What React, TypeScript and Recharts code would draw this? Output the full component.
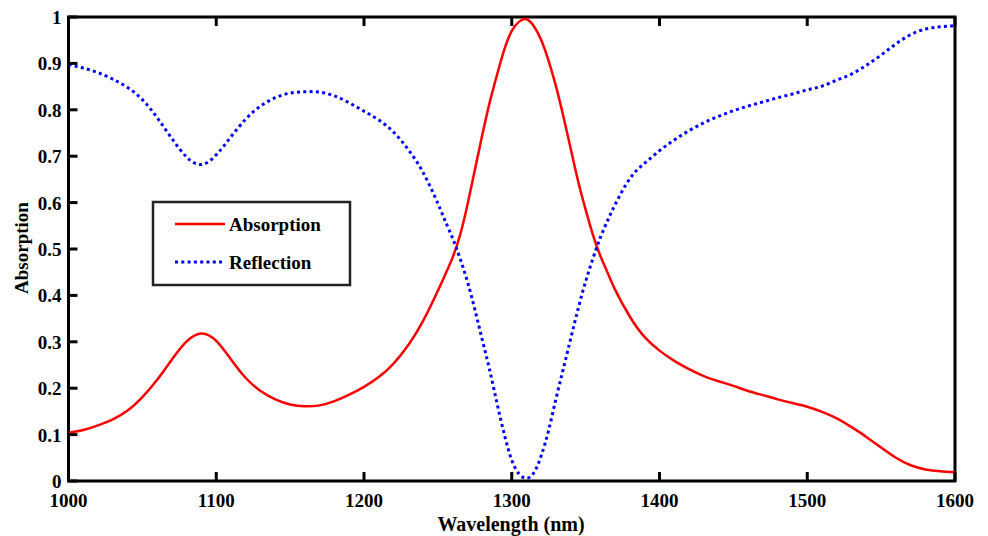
import React from 'react';
import { LineChart, Line, XAxis, YAxis, ReferenceArea } from 'recharts';

const wavelength = [
  1000, 1010, 1020, 1030, 1040, 1050, 1060, 1070, 1080, 1090,
  1100, 1110, 1120, 1130, 1140, 1150, 1160, 1170, 1180, 1190,
  1200, 1210, 1220, 1230, 1240, 1250, 1255, 1260, 1265, 1270,
  1275, 1280, 1285, 1290, 1295, 1300, 1305, 1310, 1315, 1320,
  1325, 1330, 1335, 1340, 1345, 1350, 1355, 1360, 1365, 1370,
  1380, 1390, 1400, 1410, 1420, 1430, 1440, 1450, 1460, 1470,
  1480, 1490, 1500, 1510, 1520, 1530, 1540, 1550, 1560, 1570,
  1580, 1590, 1600,
];

const absorption = [
  0.104, 0.110, 0.120, 0.133, 0.152, 0.181, 0.218, 0.262, 0.301, 0.318,
  0.302, 0.262, 0.222, 0.194, 0.176, 0.165, 0.161, 0.163, 0.172, 0.186,
  0.203, 0.224, 0.253, 0.293, 0.345, 0.410, 0.445, 0.482, 0.530, 0.595,
  0.670, 0.745, 0.815, 0.875, 0.930, 0.970, 0.990, 0.995, 0.980, 0.950,
  0.905, 0.850, 0.785, 0.715, 0.645, 0.585, 0.530, 0.485, 0.448, 0.412,
  0.354, 0.310, 0.281, 0.259, 0.241, 0.226, 0.215, 0.205, 0.194, 0.185,
  0.176, 0.168, 0.160, 0.149, 0.135, 0.116, 0.095, 0.072, 0.050, 0.034,
  0.025, 0.021, 0.019,
];

const reflection = [
  0.897, 0.890, 0.880, 0.866, 0.848, 0.822, 0.783, 0.738, 0.698, 0.682,
  0.703, 0.742, 0.780, 0.808, 0.826, 0.836, 0.839, 0.838, 0.830, 0.815,
  0.797, 0.778, 0.752, 0.714, 0.665, 0.598, 0.560, 0.523, 0.480, 0.430,
  0.370, 0.305, 0.240, 0.168, 0.100, 0.045, 0.015, 0.006, 0.018, 0.055,
  0.110, 0.178, 0.243, 0.308, 0.372, 0.430, 0.480, 0.525, 0.562, 0.596,
  0.652, 0.685, 0.712, 0.735, 0.755, 0.772, 0.786, 0.798, 0.808, 0.817,
  0.826, 0.834, 0.843, 0.851, 0.864, 0.877, 0.896, 0.918, 0.942, 0.962,
  0.974, 0.979, 0.981,
];

const xTicks = [1000, 1100, 1200, 1300, 1400, 1500, 1600];
const yTicks = [0, 0.1, 0.2, 0.3, 0.4, 0.5, 0.6, 0.7, 0.8, 0.9, 1];

const data = wavelength.map((w, i) => ({ w, absorption: absorption[i], reflection: reflection[i] }));

const FONT = '"Liberation Serif", "Times New Roman", serif';
const TICK_LEN = 9;

// tick marks point into the plot; labels only on bottom / left
const BottomTick = ({ x, y, payload }: any) => (
  <g>
    <line x1={x} y1={y} x2={x} y2={y - TICK_LEN} stroke="#000" strokeWidth={3} />
    <text x={x} y={y + 26} textAnchor="middle" fontFamily={FONT} fontWeight="bold" fontSize={19} fill="#000">
      {payload.value}
    </text>
  </g>
);

const TopTick = ({ x, y }: any) => (
  <line x1={x} y1={y} x2={x} y2={y + TICK_LEN} stroke="#000" strokeWidth={3} />
);

const LeftTick = ({ x, y, payload }: any) => (
  <g>
    <line x1={x} y1={y} x2={x + TICK_LEN} y2={y} stroke="#000" strokeWidth={3} />
    <text x={x - 7} y={y + 7} textAnchor="end" fontFamily={FONT} fontWeight="bold" fontSize={19} fill="#000">
      {payload.value}
    </text>
  </g>
);

const RightTick = ({ x, y }: any) => (
  <line x1={x} y1={y} x2={x - TICK_LEN} y2={y} stroke="#000" strokeWidth={3} />
);

export default function App() {
  return (
    <div style={{ position: 'absolute', left: 0, top: 0, width: 988, height: 536, background: '#fff', overflow: 'hidden' }}>
      <LineChart width={988} height={536} data={data} margin={{ top: 12, right: 23, bottom: 25, left: 0 }}>
        <XAxis
          dataKey="w" type="number" domain={[1000, 1600]} ticks={xTicks} allowDataOverflow
          axisLine={false} tickLine={false} tickSize={0} tickMargin={0} height={30}
          tick={<BottomTick />}
        />
        <XAxis
          xAxisId="top" orientation="top" dataKey="w" type="number" domain={[1000, 1600]} ticks={xTicks}
          axisLine={false} tickLine={false} tickSize={0} tickMargin={0} height={5}
          tick={<TopTick />}
        />
        <YAxis
          type="number" domain={[0, 1]} ticks={yTicks} width={68.5}
          axisLine={false} tickLine={false} tickSize={0} tickMargin={0}
          tick={<LeftTick />}
        />
        <YAxis
          yAxisId="right" orientation="right" type="number" domain={[0, 1]} ticks={yTicks} width={10}
          axisLine={false} tickLine={false} tickSize={0} tickMargin={0}
          tick={<RightTick />}
        />
        <Line
          dataKey="absorption" type="natural" stroke="#ff0000" strokeWidth={2.5}
          dot={false} isAnimationActive={false}
        />
        <Line
          dataKey="reflection" type="natural" stroke="#0000ff" strokeWidth={3} strokeDasharray="3 3.3"
          dot={false} isAnimationActive={false}
        />
        <ReferenceArea x1={1000} x2={1600} y1={0} y2={1} fill="none" stroke="#000" strokeWidth={3} ifOverflow="visible" />

        {/* legend box */}
        <g>
          <rect x={153} y={202} width={197} height={83} fill="#fff" stroke="#222" strokeWidth={2.5} />
          <line x1={175} y1={224} x2={225} y2={224} stroke="#ff0000" strokeWidth={2.5} />
          <line x1={175} y1={262} x2={222} y2={262} stroke="#0000ff" strokeWidth={3} strokeDasharray="3 3.3" />
          <text x={229} y={231} fontFamily={FONT} fontWeight="bold" fontSize={19} fill="#000">Absorption</text>
          <text x={229} y={269} fontFamily={FONT} fontWeight="bold" fontSize={19} fill="#000">Reflection</text>
        </g>

        <text x={28} y={248} transform="rotate(-90 28 248)" textAnchor="middle" fontFamily={FONT} fontWeight="bold" fontSize={19} fill="#000">
          Absorption
        </text>
        <text x={511} y={531} textAnchor="middle" fontFamily={FONT} fontWeight="bold" fontSize={20} fill="#000">
          Wavelength (nm)
        </text>
      </LineChart>
    </div>
  );
}
